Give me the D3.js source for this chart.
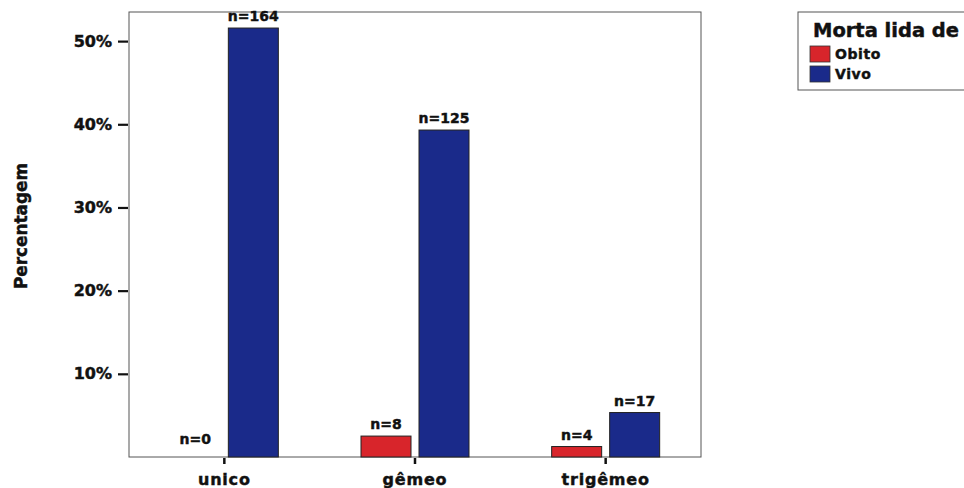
<!DOCTYPE html>
<html>
<head>
<meta charset="utf-8">
<script src="https://cdn.jsdelivr.net/npm/d3@7"></script>
<style>
  html, body { margin: 0; padding: 0; background: #fff; }
  svg { display: block; }
  text { font-family: "DejaVu Sans", "Liberation Sans", Arial, sans-serif; font-weight: bold; fill: #111; stroke: #111; stroke-width: 0.45px; }
</style>
</head>
<body>
<svg id="chart" width="964" height="488"></svg>
<script>
// Birth type categories and the two outcome groups
const categories = ["unico", "gêmeo", "trigêmeo"];
const seriesNames = ["Obito", "Vivo"];
// Case counts per category (one array per outcome)
const obitoCounts = [0, 8, 4];
const vivoCounts = [164, 125, 17];
// Y-axis tick values (percent)
const yTicks = [10, 20, 30, 40, 50];
const yMax = 53.5;

const colors = { Obito: "#d8252b", Vivo: "#1a2a8a" };

const total = d3.sum(obitoCounts) + d3.sum(vivoCounts);
const rows = categories.map((c, i) => ({
  cat: c,
  values: [
    { key: "Obito", n: obitoCounts[i], pct: obitoCounts[i] / total * 100 },
    { key: "Vivo", n: vivoCounts[i], pct: vivoCounts[i] / total * 100 }
  ]
}));

const svg = d3.select("#chart");
const plot = { left: 129, right: 701, top: 12, bottom: 457 };

const x = d3.scaleBand().domain(categories).range([plot.left, plot.right]);
const y = d3.scaleLinear().domain([0, yMax]).range([plot.bottom, plot.top]);
// Two bars per category, 50px wide, separated by an 8px gap around the center
const xInner = d3.scaleBand().domain(seriesNames).range([-54, 54]).paddingInner(8 / 58);

// Frame
svg.append("rect")
  .attr("x", plot.left).attr("y", plot.top)
  .attr("width", plot.right - plot.left).attr("height", plot.bottom - plot.top)
  .attr("fill", "none").attr("stroke", "#555").attr("stroke-width", 1);

// Y axis
const yAxis = d3.axisLeft(y).tickValues(yTicks).tickFormat(d => d + "%").tickSize(10).tickPadding(6);
const gy = svg.append("g").attr("transform", `translate(${plot.left - 1},0)`).call(yAxis);
gy.select(".domain").remove();
gy.selectAll(".tick line").attr("stroke", "#111").attr("stroke-width", 2.2);
gy.selectAll(".tick text").attr("font-size", 16).attr("fill", "#111")
  .style("font-family", "'DejaVu Sans', sans-serif").style("font-weight", "bold");

// X axis
const xAxis = d3.axisBottom(x).tickSize(6).tickPadding(10);
const gx = svg.append("g").attr("transform", `translate(0,${plot.bottom + 1})`).call(xAxis);
gx.select(".domain").remove();
gx.selectAll(".tick line").attr("stroke", "#111").attr("stroke-width", 2.5);
gx.selectAll(".tick text").attr("font-size", 16).attr("fill", "#111").attr("letter-spacing", 0.8)
  .style("font-family", "'DejaVu Sans', sans-serif").style("font-weight", "bold");

// Bars
const groups = svg.append("g").selectAll("g").data(rows).join("g")
  .attr("transform", d => `translate(${x(d.cat) + x.bandwidth() / 2},0)`);

groups.selectAll("rect").data(d => d.values.filter(v => v.n > 0)).join("rect")
  .attr("x", v => xInner(v.key))
  .attr("width", xInner.bandwidth())
  .attr("y", v => y(v.pct))
  .attr("height", v => y(0) - y(v.pct))
  .attr("fill", v => colors[v.key])
  .attr("stroke", "#222").attr("stroke-width", 1);

groups.selectAll("text.nlab").data(d => d.values).join("text")
  .attr("class", "nlab")
  .attr("x", v => xInner(v.key) + xInner.bandwidth() / 2)
  .attr("y", v => Math.min(y(v.pct) - 7, y(0) - 13))
  .attr("text-anchor", "middle")
  .attr("font-size", 14)
  .text(v => "n=" + v.n);

// Y axis title
svg.append("text")
  .attr("transform", "translate(27,226) rotate(-90)")
  .attr("text-anchor", "middle")
  .attr("font-size", 17)
  .attr("textLength", 126).attr("lengthAdjust", "spacingAndGlyphs")
  .text("Percentagem");

// Legend
const lg = svg.append("g");
lg.append("rect").attr("x", 798).attr("y", 12).attr("width", 180).attr("height", 78)
  .attr("fill", "#fff").attr("stroke", "#555").attr("stroke-width", 1);
lg.append("text").attr("x", 813).attr("y", 37).attr("font-size", 19)
  .attr("textLength", 146).attr("lengthAdjust", "spacingAndGlyphs")
  .attr("stroke-width", 0.7)
  .text("Morta lida de");
const items = lg.selectAll("g.item").data(seriesNames).join("g").attr("class", "item")
  .attr("transform", (d, i) => `translate(810,${46 + i * 20})`);
items.append("rect").attr("width", 20).attr("height", 16)
  .attr("fill", d => colors[d]).attr("stroke", "#333").attr("stroke-width", 0.8);
items.append("text").attr("x", 25).attr("y", 13).attr("font-size", 14).attr("letter-spacing", 0.6)
  .text(d => d);
</script>
</body>
</html>
